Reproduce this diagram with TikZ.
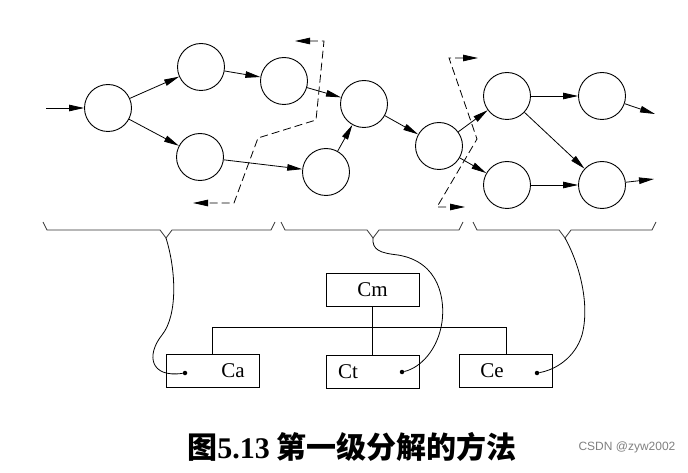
\documentclass[tikz,border=0pt]{standalone}
\usepackage{fontspec}
\setmainfont{Liberation Serif}
\newfontfamily\cjk{Noto Sans CJK SC}
\newfontfamily\marksans{Liberation Sans}
\usetikzlibrary{arrows.meta}

\begin{document}
\begin{tikzpicture}[x=1pt,y=-1pt,
	proc/.style={circle,draw,line width=0.9pt,minimum size=47pt,inner sep=0pt},
	flow/.style={line width=0.8pt,-{Triangle[length=15pt,width=6.5pt]}},
	cut/.style={line width=0.8pt,dash pattern=on 8pt off 4pt},
	brace/.style={line width=0.8pt,black!80},
	box/.style={draw,line width=0.8pt,minimum width=93pt,minimum height=33pt,inner sep=0pt,font=\fontsize{21}{21}\selectfont},
	dot/.style={circle,fill,inner sep=0pt,minimum size=4.5pt}]
\useasboundingbox (0,0) rectangle (688,473);
% data flow net
\foreach \n/\x/\y in {A/108/108,B/201/67,C/200/157,D/284/81,E/326/172,F/364/104,
	G/439/146,H/507/96,I/507/185,J/602/96,K/602/185}\node[proc] (\n) at (\x,\y){};
\coordinate (in) at (46,108);
\coordinate (outJ) at (655,114);
\coordinate (outK) at (654,179);
\draw[flow] (in)--(A);
\foreach \a/\b in {A/B,A/C,B/D,D/F,C/E,E/F,F/G,G/H,G/I,H/J,H/K,I/K}\draw[flow] (\a)--(\b);
\draw[flow] (J)--(outJ);
\draw[flow] (K)--(outK);
% cut lines
\draw[cut,{Triangle[length=15pt,width=6.5pt]}-{Triangle[length=15pt,width=6.5pt]}]
	(295,41)--(324,41)--(316,120)--(258,138)--(234,203)--(193,203);
\draw[cut,{Triangle[length=15pt,width=6.5pt]}-{Triangle[length=15pt,width=6.5pt]}]
	(478,58)--(449,58)--(477,139)--(437,207)--(465,207);
% braces
\foreach \l/\m/\r/\n in {43/166/275/a,281/373/463/t,473/565/656/e}{
	\draw[brace] (\l,222)--(\l+4,230)--(\m-6,230)--(\m,238)--(\m+6,230)--(\r-4,230)--(\r,222);
	\coordinate (b\n) at (\m,238);}
% modules
\node[box] (Cm) at (372.5,289.5){Cm};
\node[box] (Ca) at (212.5,370.5){};
\node[box] (Ct) at (372.5,371.5){};
\node[box] (Ce) at (506,370.5){};
\node[font=\fontsize{21}{21}\selectfont] (la) at ([xshift=20.5pt]Ca.center){Ca};
\node[font=\fontsize{21}{21}\selectfont] (lt) at ([xshift=-24.5pt]Ct.center){Ct};
\node[font=\fontsize{21}{21}\selectfont] (le) at ([xshift=-14pt]Ce.center){Ce};
\draw[line width=0.8pt] (Ca.north)--++(0,-26)-|(Ce.north);
\draw[line width=0.8pt] (Cm.south)--(Ct.north);
\node[dot] (da) at (185,373){};
\node[dot] (dt) at (402,372){};
\node[dot] (de) at (537,373){};
\draw[line width=0.8pt] (ba) .. controls (176,270) and (178,315) .. (162,335)
	.. controls (146,355) and (150,378) .. (da);
\draw[line width=0.8pt] (bt) .. controls (372,250) and (380,253) .. (398,255)
	.. controls (440,262) and (445,300) .. (442,322) .. controls (438,350) and (420,368) .. (dt);
\draw[line width=0.8pt] (be) .. controls (580,265) and (590,305) .. (582,335)
	.. controls (575,358) and (555,370) .. (de);
% caption
\node (cap) at (352,447){\fontsize{30}{30}\selectfont\cjk\bfseries 图{\rmfamily\bfseries 5.13} 第一级分解的方法};
\node[text=gray,font=\marksans\fontsize{12}{12}\selectfont] (mark) at (627,447){CSDN @zyw2002};
\end{tikzpicture}
\end{document}
